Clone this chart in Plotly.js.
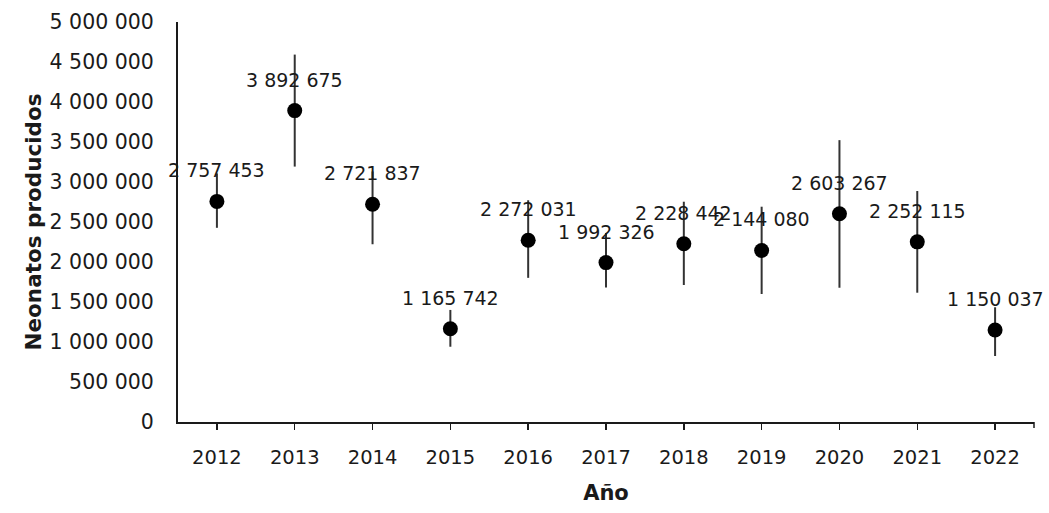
<!DOCTYPE html>
<html>
<head>
<meta charset="utf-8">
<script src="https://cdn.plot.ly/plotly-3.0.1.min.js"></script>
<style>html,body{margin:0;padding:0;background:#fff;}#chart{width:1049px;height:513px;}</style>
</head>
<body>
<div id="chart"></div>
<script>
const years = ['2012','2013','2014','2015','2016','2017','2018','2019','2020','2021','2022'];
const neonatos = [2757453, 3892675, 2721837, 1165742, 2272031, 1992326, 2228442, 2144080, 2603267, 2252115, 1150037];
const errPlus  = [350000, 700000, 410000, 235000, 500000, 370000, 525000, 547000, 920000, 635000, 284000];
const errMinus = [330000, 700000, 500000, 225000, 470000, 310000, 516000, 544000, 925000, 636000, 325000];
const yTickVals = [0, 500000, 1000000, 1500000, 2000000, 2500000, 3000000, 3500000, 4000000, 4500000, 5000000];

function fmt(v) {
  return String(v).replace(/\B(?=(\d{3})+(?!\d))/g, '\u00a0');
}

const FONT = 'DejaVu Sans, sans-serif';
const TXT = '#1a1a1a';

const trace = {
  x: years,
  y: neonatos,
  type: 'scatter',
  mode: 'markers',
  marker: {color: '#000000', size: 15},
  error_y: {
    type: 'data', symmetric: false,
    array: errPlus, arrayminus: errMinus,
    color: '#333333', thickness: 2, width: 0
  },
  hoverinfo: 'x+y'
};

const annotations = years.map((yr, i) => ({
  x: i, y: neonatos[i], xref: 'x', yref: 'y',
  text: fmt(neonatos[i]), showarrow: false,
  yshift: 31, xanchor: 'center', yanchor: 'middle',
  font: {family: FONT, size: 19, color: TXT}
}));

const layout = {
  width: 1049, height: 513,
  margin: {l: 178, r: 15, t: 22, b: 91},
  paper_bgcolor: '#ffffff', plot_bgcolor: '#ffffff',
  showlegend: false,
  font: {family: FONT, color: TXT},
  xaxis: {
    type: 'category',
    range: [-0.5, 10.5],
    showline: true, linecolor: '#1a1a1a', linewidth: 2,
    ticks: 'outside', ticklen: 6, tickwidth: 1.5, tickcolor: '#1a1a1a',
    showgrid: false, zeroline: false,
    tickfont: {family: FONT, size: 19.5, color: TXT},
    ticklabelstandoff: 11,
    title: {text: 'Año', font: {family: FONT, size: 21, color: TXT, weight: 'bold'}, standoff: 17}
  },
  yaxis: {
    range: [0, 5000000],
    tickvals: yTickVals,
    ticktext: yTickVals.map(fmt),
    showline: true, linecolor: '#1a1a1a', linewidth: 2,
    ticks: '', showgrid: false, zeroline: false,
    tickfont: {family: FONT, size: 20.5, color: TXT},
    ticklabelstandoff: 18,
    title: {text: 'Neonatos producidos', font: {family: FONT, size: 21.5, color: TXT, weight: 'bold'}, standoff: 2}
  },
  shapes: [{
    type: 'line', xref: 'paper', yref: 'paper',
    x0: 1, x1: 1, y0: -0.015, y1: 0,
    line: {color: '#1a1a1a', width: 1.5}
  }],
  annotations: annotations
};

Plotly.newPlot('chart', [trace], layout, {displayModeBar: false, staticPlot: true});
</script>
</body>
</html>
